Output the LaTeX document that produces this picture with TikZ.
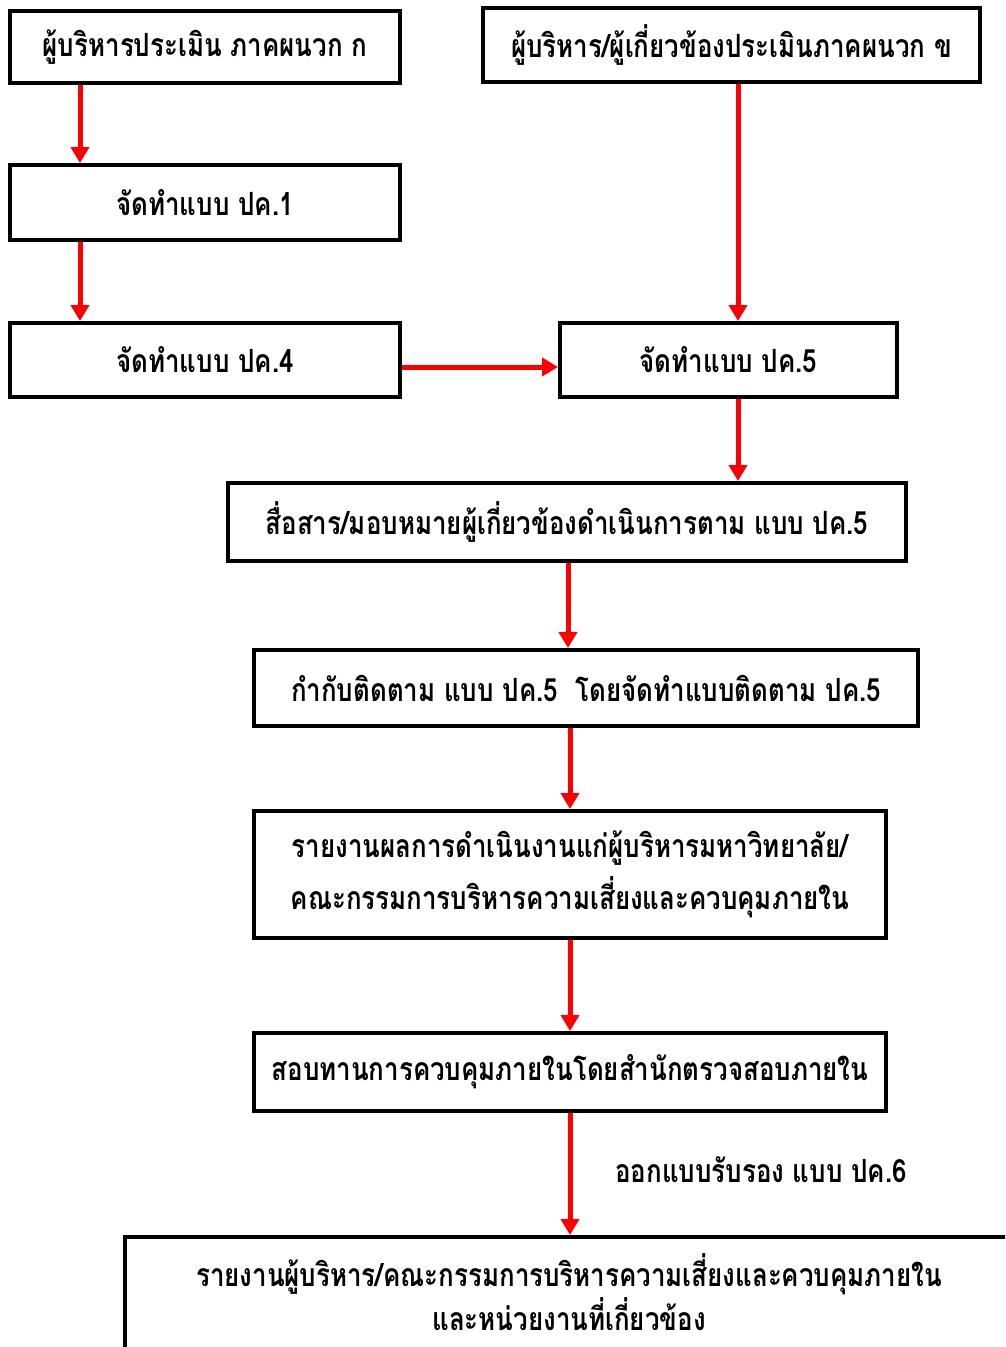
\documentclass[tikz,border=0pt]{standalone}
\usepackage{fontspec}
\newfontfamily\thai[Script=Thai,FakeStretch=0.81]{Loma}
\usetikzlibrary{arrows.meta}
\tikzset{
  box/.style={draw=black, line width=4pt, fill=white, align=center, inner sep=0pt, font=\thai\bfseries\fontsize{32}{52}\selectfont},
  arr/.style={draw=red, line width=5pt, -{Triangle[width=18pt,length=16pt]}},
  lbl/.style={font=\thai\bfseries\fontsize{32}{44}\selectfont, inner sep=0pt}
}
\begin{document}
\begin{tikzpicture}[x=1pt,y=-1pt]
\useasboundingbox (0,0) rectangle (1005,1347);
\clip (0,0) rectangle (1005,1347);
\fill[white] (0,0) rectangle (1005,1347);
\node[box, minimum width=390pt, minimum height=72pt] (A) at (205,47) {ผู้บริหารประเมิน ภาคผนวก ก};
\node[box, minimum width=497pt, minimum height=74pt] (B) at (731.5,45) {ผู้บริหาร/ผู้เกี่ยวข้องประเมินภาคผนวก ข};
\node[box, minimum width=390pt, minimum height=75pt] (C) at (205,202.5) {จัดทำแบบ ปค.1};
\node[box, minimum width=390pt, minimum height=74pt] (D) at (205,360) {จัดทำแบบ ปค.4};
\node[box, minimum width=337pt, minimum height=74pt] (E) at (728.5,360) {จัดทำแบบ ปค.5};
\node[box, minimum width=678pt, minimum height=78pt] (F) at (567,522) {สื่อสาร/มอบหมายผู้เกี่ยวข้องดำเนินการตาม แบบ ปค.5};
\node[box, minimum width=664pt, minimum height=76pt] (G) at (586,688) {กำกับติดตาม แบบ ปค.5\ \ โดยจัดทำแบบติดตาม ปค.5};
\node[box, minimum width=632pt, minimum height=127pt] (H) at (570,874.5) {รายงานผลการดำเนินงานแก่ผู้บริหารมหาวิทยาลัย/\\คณะกรรมการบริหารความเสี่ยงและควบคุมภายใน};
\node[box, minimum width=632pt, minimum height=78pt] (I) at (570,1072) {สอบทานการควบคุมภายในโดยสำนักตรวจสอบภายใน};
\node[box, minimum width=910pt, minimum height=150pt, anchor=north west] (J) at (123,1235) {};
\node[lbl, align=center] (Jt) at (569,1292) {รายงานผู้บริหาร/คณะกรรมการบริหารความเสี่ยงและควบคุมภายใน\\และหน่วยงานที่เกี่ยวข้อง};
\node[lbl] (L) at (761,1170) {ออกแบบรับรอง แบบ ปค.6};
\coordinate (xl) at (80,0);
\coordinate (xb) at (738,0);
\coordinate (xf) at (568,0);
\coordinate (xg) at (570,0);
\coordinate (yd) at (0,367);
\draw[arr] (A.south -| xl) -- (C.north -| xl);
\draw[arr] (C.south -| xl) -- (D.north -| xl);
\draw[arr] (B.south -| xb) -- (E.north -| xb);
\draw[arr] (D.east |- yd) -- (E.west |- yd);
\draw[arr] (E.south -| xb) -- (F.north -| xb);
\draw[arr] (F.south -| xf) -- (G.north -| xf);
\draw[arr] (G.south -| xg) -- (H.north -| xg);
\draw[arr] (H.south -| xg) -- (I.north -| xg);
\draw[arr] (I.south -| xg) -- (J.north -| xg);
\end{tikzpicture}
\end{document}
